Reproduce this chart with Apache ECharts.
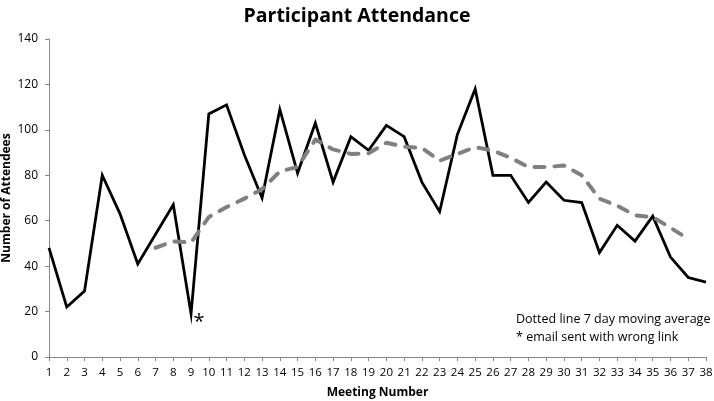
<!DOCTYPE html>
<html>
<head>
<meta charset="utf-8">
<title>Participant Attendance</title>
<script src="https://cdn.jsdelivr.net/npm/echarts@6/dist/echarts.min.js"></script>
<style>
    html, body {margin: 0; padding: 0; background: #fff;}
    #chart {width: 714px; height: 401px;}
</style>
</head>
<body>
<div id="chart"></div>
<script>
// meeting numbers 1..38
const meetings = ['1','2','3','4','5','6','7','8','9','10','11','12','13','14','15','16','17','18','19',
    '20','21','22','23','24','25','26','27','28','29','30','31','32','33','34','35','36','37','38'];

// attendees per meeting
const attendees = [48, 22, 29, 80, 63, 41, 54, 67, 19, 107, 111, 89, 70, 109, 81, 103, 77, 97, 91,
    102, 97, 77, 64, 98, 118, 80, 80, 68, 77, 69, 68, 46, 58, 51, 62, 44, 35, 33];

// dashed trend (7 day moving average), starts at meeting 7
const movingAvg = ['-', '-', '-', '-', '-', '-', 48.1, 50.9, 50.4, 61.6, 66, 69.7, 73.9, 81.7, 83.7, 95.7,
    91.4, 89.4, 89.7, 94.3, 92.6, 92, 86.4, 89.4, 92.4, 90.9, 87.7, 83.6, 83.6, 84.3, 80, 69.7, 66.6,
    62.4, 61.6, 56.9, 52, '-'];

const yTicks = {min: 0, max: 140, interval: 20};

const notes = ['Dotted line 7 day moving average', '* email sent with wrong link'];

const font = '"Open Sans", "Noto Sans", sans-serif';
const axisGrey = '#868686';

let chart = echarts.init(document.getElementById('chart'));

chart.setOption({
    animation: false,
    textStyle: {fontFamily: font},
    title: {
        text: 'Participant Attendance',
        left: 'center',
        top: 1,
        textStyle: {
            fontFamily: font,
            fontSize: 19.5,
            fontWeight: 'bold',
            color: '#000'
        }
    },
    grid: {left: 49, right: 8, top: 39, bottom: 44, containLabel: false, outerBoundsMode: 'none'},
    xAxis: {
        type: 'category',
        data: meetings,
        boundaryGap: false,
        name: 'Meeting Number',
        nameLocation: 'middle',
        nameGap: 30,
        nameMoveOverlap: false,
        nameTextStyle: {fontFamily: font, fontSize: 12, fontWeight: 'bold', color: '#000'},
        axisLine: {lineStyle: {color: axisGrey, width: 1}},
        axisTick: {show: true, length: 4, alignWithLabel: true, lineStyle: {color: axisGrey}},
        axisLabel: {interval: 0, margin: 10, fontSize: 11.5, color: '#000', fontFamily: font},
        splitLine: {show: false}
    },
    yAxis: {
        type: 'value',
        min: yTicks.min,
        max: yTicks.max,
        interval: yTicks.interval,
        name: 'Number of Attendees',
        nameLocation: 'middle',
        nameGap: 36,
        nameMoveOverlap: false,
        nameTextStyle: {fontFamily: font, fontSize: 12, fontWeight: 'bold', color: '#000'},
        axisLine: {show: true, lineStyle: {color: axisGrey, width: 1}},
        axisTick: {show: true, length: 4, lineStyle: {color: axisGrey}},
        axisLabel: {margin: 11, fontSize: 12, color: '#000', fontFamily: font},
        splitLine: {show: false}
    },
    series: [
        {
            name: 'Attendees',
            type: 'line',
            data: attendees,
            symbol: 'none',
            z: 2,
            lineStyle: {color: '#000', width: 2.8, join: 'miter'},
            markPoint: {
                symbol: 'circle',
                symbolSize: 1,
                itemStyle: {color: 'rgba(0,0,0,0)'},
                label: {
                    show: true,
                    formatter: '*',
                    color: '#000',
                    fontSize: 20,
                    fontFamily: font,
                    offset: [8, 8]
                },
                data: [{coord: ['9', 19]}]
            }
        },
        {
            name: '7 day moving average',
            type: 'line',
            data: movingAvg,
            symbol: 'none',
            z: 3,
            lineStyle: {color: '#808080', width: 4, type: [10, 10], cap: 'round', join: 'round'}
        }
    ],
    graphic: [
        {
            type: 'text',
            left: 516,
            top: 310,
            style: {
                text: notes.join('\n'),
                font: '12.5px ' + font,
                fill: '#000',
                lineHeight: 18
            }
        }
    ]
});
</script>
</body>
</html>
